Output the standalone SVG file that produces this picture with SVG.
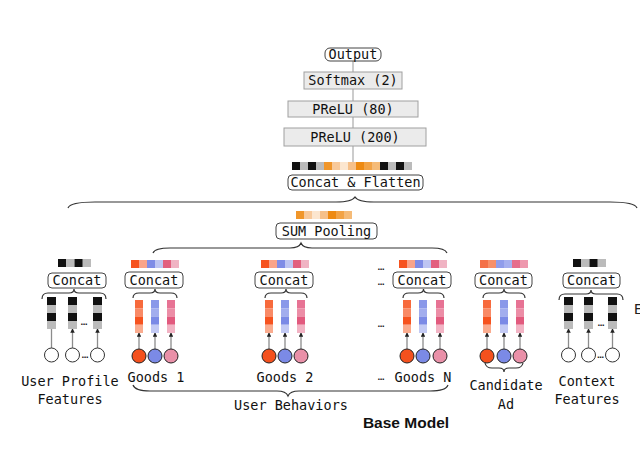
<svg xmlns="http://www.w3.org/2000/svg" width="640" height="468" viewBox="0 0 640 468">
<defs>
<style>
.mono{font-family:"DejaVu Sans Mono","Liberation Mono",monospace;font-size:13.5px;fill:#111;text-anchor:middle}
.box{fill:#fff;stroke:#444;stroke-width:1}
.gbox{fill:#ebebeb;stroke:#a0a0a0;stroke-width:1}
.brace{fill:none;stroke:#333;stroke-width:1.2}
.arr{stroke:#8c8c8c;stroke-width:1.3;marker-end:url(#ah)}
.k{fill:#111}.g{fill:#bbb}
.c1{fill:#F6531F}.c2{fill:#F9A48A}.c3{fill:#7F8CE6}.c4{fill:#BEC5F2}.c5{fill:#E2607F}.c6{fill:#F0B3C3}
.r1{fill:#F76A3C}.r2{fill:#F98A66}.r3{fill:#F6531F}.r4{fill:#FAAB8E}
.b1{fill:#8A98E9}.b2{fill:#A2ADEE}.b3{fill:#7B8AE6}.b4{fill:#C3CAF4}
.p1{fill:#E77394}.p2{fill:#EC8DA6}.p3{fill:#E25A7E}.p4{fill:#F2B3C4}
.cr{fill:#F4511E;stroke:#222;stroke-width:1}
.cb{fill:#7B8AE6;stroke:#222;stroke-width:1}
.cp{fill:#E990A8;stroke:#222;stroke-width:1}
.cw{fill:#fff;stroke:#333;stroke-width:1}
.dots{font-family:"DejaVu Sans Mono",monospace;font-size:11px;fill:#222;text-anchor:middle}
</style>
<marker id="ah" viewBox="0 0 6 6" refX="5" refY="3" markerWidth="3.5" markerHeight="3.5" orient="auto"><path d="M0,0 L6,3 L0,6 z" fill="#222"/></marker>
<g id="gcol">
<rect x="0" y="0" width="9" height="8" class="k"/><rect x="0" y="8" width="9" height="8" class="g"/><rect x="0" y="16" width="9" height="8" class="k"/><rect x="0" y="24" width="9" height="8" class="g"/>
</g>
<g id="rcol"><rect x="0" y="0" width="8" height="8.25" class="r1"/><rect x="0" y="8.25" width="8" height="8.25" class="r2"/><rect x="0" y="16.5" width="8" height="8.25" class="r3"/><rect x="0" y="24.75" width="8" height="8.25" class="r4"/></g>
<g id="bcol"><rect x="0" y="0" width="8" height="8.25" class="b1"/><rect x="0" y="8.25" width="8" height="8.25" class="b2"/><rect x="0" y="16.5" width="8" height="8.25" class="b3"/><rect x="0" y="24.75" width="8" height="8.25" class="b4"/></g>
<g id="pcol"><rect x="0" y="0" width="8" height="8.25" class="p1"/><rect x="0" y="8.25" width="8" height="8.25" class="p2"/><rect x="0" y="16.5" width="8" height="8.25" class="p3"/><rect x="0" y="24.75" width="8" height="8.25" class="p4"/></g>
<g id="gbar"><rect x="0" y="0" width="8.25" height="8" class="k"/><rect x="8.25" y="0" width="8.25" height="8" class="g"/><rect x="16.5" y="0" width="8.25" height="8" class="k"/><rect x="24.75" y="0" width="8.25" height="8" class="g"/></g>
<g id="cbar"><rect x="0" y="0" width="8" height="8" class="c1"/><rect x="8" y="0" width="8" height="8" class="c2"/><rect x="16" y="0" width="8" height="8" class="c3"/><rect x="24" y="0" width="8" height="8" class="c4"/><rect x="32" y="0" width="8" height="8" class="c5"/><rect x="40" y="0" width="8" height="8" class="c6"/></g>
</defs>
<rect width="640" height="468" fill="#fff"/>

<g id="connectors">
<line x1="353" y1="60" x2="353" y2="162" stroke="#999" stroke-width="1"/>
<path class="brace" d="M68,208 Q70,202 95,202 L336,202 Q352,202 355,197 Q358,202 374,202 L610,202 Q635,202 637,208"/>
<path class="brace" d="M153,253 Q155,248 170,248 L290,248 Q299,248 301,243 Q303,248 312,248 L432,248 Q445,248 447,253"/>
<path class="brace" d="M133,385 Q135,391 150,391 L277,391 Q286,391 288,396 Q290,391 299,391 L430,391 Q446,391 448,385"/>
<path class="brace" d="M485,363 Q486,368 492,368 L499,368 Q504,368 504,372 Q504,368 509,368 L516,368 Q522,368 523,363"/>
<!-- small braces under concat boxes -->
<path class="brace" d="M42,299 Q42,293 48,293 L69,293 Q74,293 74,289 Q74,293 79,293 L100,293 Q106,293 106,299"/>
<path class="brace" d="M133,298 Q133,293 139,293 L150,293 Q155,293 155,289 Q155,293 160,293 L171,293 Q177,293 177,298"/>
<path class="brace" d="M265,298 Q265,293 271,293 L281,293 Q286,293 286,289 Q286,293 291,293 L301,293 Q307,293 307,298"/>
<path class="brace" d="M403,298 Q403,293 409,293 L418,293 Q423.5,293 423.5,289 Q423.5,293 429,293 L438,293 Q444,293 444,298"/>
<path class="brace" d="M483,298 Q483,293 489,293 L499,293 Q504,293 504,289 Q504,293 509,293 L519,293 Q525,293 525,298"/>
<path class="brace" d="M559,300 Q559,294 565,294 L586,294 Q591,294 591,290 Q591,294 596,294 L617,294 Q623,294 623,300"/>
<!-- arrows -->
<line class="arr" x1="51.5" y1="348" x2="51.5" y2="320"/>
<line class="arr" x1="72.5" y1="348" x2="72.5" y2="329"/>
<line class="arr" x1="97.5" y1="348" x2="97.5" y2="329"/>
<line class="arr" x1="139" y1="349" x2="139" y2="333"/>
<line class="arr" x1="155" y1="349" x2="155" y2="333"/>
<line class="arr" x1="171" y1="349" x2="171" y2="333"/>
<line class="arr" x1="269" y1="349" x2="269" y2="333"/>
<line class="arr" x1="285" y1="349" x2="285" y2="333"/>
<line class="arr" x1="301" y1="349" x2="301" y2="333"/>
<line class="arr" x1="407" y1="349" x2="407" y2="333"/>
<line class="arr" x1="423" y1="349" x2="423" y2="333"/>
<line class="arr" x1="440" y1="349" x2="440" y2="333"/>
<line class="arr" x1="487" y1="349" x2="487" y2="333"/>
<line class="arr" x1="504" y1="349" x2="504" y2="333"/>
<line class="arr" x1="520" y1="349" x2="520" y2="333"/>
<line class="arr" x1="568.5" y1="348" x2="568.5" y2="329"/>
<line class="arr" x1="588.5" y1="348" x2="588.5" y2="329"/>
<line class="arr" x1="612.5" y1="348" x2="612.5" y2="329"/>
</g>

<g id="output"><rect class="box" x="325" y="48" width="56" height="13" rx="5"/><text class="mono" x="353" y="58.5">Output</text></g>
<g id="softmax"><rect class="gbox" x="304" y="72" width="98" height="17"/><text class="mono" x="353" y="85">Softmax (2)</text></g>
<g id="prelu80"><rect class="gbox" x="288" y="101" width="130" height="16"/><text class="mono" x="353" y="113.5">PReLU (80)</text></g>
<g id="prelu200"><rect class="gbox" x="284" y="128" width="142" height="18"/><text class="mono" x="355" y="141.5">PReLU (200)</text></g>

<g id="concat-flatten">
<rect class="k" x="292" y="162" width="8" height="8"/><rect class="g" x="300" y="162" width="8" height="8"/><rect class="k" x="308" y="162" width="8" height="8"/><rect class="g" x="316" y="162" width="8" height="8"/>
<rect fill="#F0962A" x="324" y="162" width="8" height="8"/><rect fill="#F8C99A" x="332" y="162" width="8" height="8"/><rect fill="#FCE6CF" x="340" y="162" width="8" height="8"/><rect fill="#F6C089" x="348" y="162" width="8" height="8"/><rect fill="#EE8A12" x="356" y="162" width="8" height="8"/><rect fill="#F2A346" x="364" y="162" width="8" height="8"/><rect fill="#F5BB78" x="372" y="162" width="8" height="8"/>
<rect class="k" x="380" y="162" width="8" height="8"/><rect class="g" x="388" y="162" width="8" height="8"/><rect class="k" x="396" y="162" width="8" height="8"/><rect class="g" x="404" y="162" width="8" height="8"/>
<rect class="box" x="288" y="175" width="135" height="15" rx="4"/><text class="mono" x="355.5" y="187">Concat &amp; Flatten</text>
</g>

<g id="sum-pooling">
<rect fill="#F0962A" x="296" y="211" width="8" height="8"/><rect fill="#F8C99A" x="304" y="211" width="8" height="8"/><rect fill="#FCE6CF" x="312" y="211" width="8" height="8"/><rect fill="#F6C089" x="320" y="211" width="8" height="8"/><rect fill="#EE8A12" x="328" y="211" width="8" height="8"/><rect fill="#F2A346" x="336" y="211" width="8" height="8"/><rect fill="#F5BB78" x="344" y="211" width="8" height="8"/>
<rect class="box" x="276" y="223" width="101" height="16" rx="4"/><text class="mono" x="326.5" y="235.5">SUM Pooling</text>
</g>

<g id="user-profile">
<use href="#gbar" x="58" y="259"/>
<rect class="box" x="48" y="273" width="58" height="15" rx="4"/><text class="mono" x="77" y="285">Concat</text>
<use href="#gcol" x="47" y="297"/><use href="#gcol" x="68" y="297"/><use href="#gcol" x="93" y="297"/>
<text class="dots" x="84" y="325">…</text>
<circle class="cw" cx="51.5" cy="355" r="7"/><circle class="cw" cx="72.5" cy="355" r="7"/><circle class="cw" cx="97.5" cy="355" r="7"/>
<text class="dots" x="85" y="358">…</text>
<text class="mono" x="70" y="386">User Profile</text><text class="mono" x="70" y="404">Features</text>
</g>

<g id="goods1">
<use href="#cbar" x="131" y="260"/>
<rect class="box" x="125" y="272" width="58" height="16" rx="4"/><text class="mono" x="154" y="284.5">Concat</text>
<use href="#rcol" x="135" y="300"/><use href="#bcol" x="151" y="300"/><use href="#pcol" x="167" y="300"/>
<circle class="cr" cx="139" cy="356" r="7"/><circle class="cb" cx="155" cy="356" r="7"/><circle class="cp" cx="171" cy="356" r="7"/>
<text class="mono" x="156" y="382">Goods 1</text>
</g>

<g id="goods2">
<use href="#cbar" x="261" y="260"/>
<rect class="box" x="255" y="272" width="58" height="16" rx="4"/><text class="mono" x="284" y="284.5">Concat</text>
<use href="#rcol" x="265" y="300"/><use href="#bcol" x="281" y="300"/><use href="#pcol" x="297" y="300"/>
<circle class="cr" cx="269" cy="356" r="7"/><circle class="cb" cx="285" cy="356" r="7"/><circle class="cp" cx="301" cy="356" r="7"/>
<text class="mono" x="285" y="382">Goods 2</text>
</g>

<g id="ellipsis">
<text class="dots" x="381" y="270">…</text>
<text class="dots" x="381" y="285">…</text>
<text class="dots" x="381" y="327">…</text>
<text class="dots" x="381" y="380">…</text>
</g>

<g id="goodsN">
<use href="#cbar" x="399" y="260"/>
<rect class="box" x="393" y="272" width="58" height="16" rx="4"/><text class="mono" x="422" y="284.5">Concat</text>
<use href="#rcol" x="403" y="300"/><use href="#bcol" x="419" y="300"/><use href="#pcol" x="436" y="300"/>
<circle class="cr" cx="407" cy="356" r="7"/><circle class="cb" cx="423" cy="356" r="7"/><circle class="cp" cx="440" cy="356" r="7"/>
<text class="mono" x="423" y="382">Goods N</text>
</g>

<g id="candidate-ad">
<rect fill="#F47048" x="480" y="260" width="8" height="8"/><rect fill="#F7906A" x="488" y="260" width="8" height="8"/><rect fill="#909DEB" x="496" y="260" width="8" height="8"/><rect fill="#A6B0EF" x="504" y="260" width="8" height="8"/><rect fill="#E66D8C" x="512" y="260" width="8" height="8"/><rect fill="#EE98AE" x="520" y="260" width="8" height="8"/>
<rect class="box" x="475" y="273" width="57" height="15" rx="4"/><text class="mono" x="503.5" y="285">Concat</text>
<use href="#rcol" x="483" y="300"/><use href="#bcol" x="500" y="300"/><use href="#pcol" x="516" y="300"/>
<circle class="cr" cx="487" cy="356" r="7"/><circle class="cb" cx="504" cy="356" r="7"/><circle class="cp" cx="520" cy="356" r="7"/>
<text class="mono" x="506" y="390">Candidate</text><text class="mono" x="506" y="408.5">Ad</text>
</g>

<g id="context">
<use href="#gbar" x="573" y="259"/>
<rect class="box" x="563" y="273" width="57" height="15" rx="4"/><text class="mono" x="591.5" y="285">Concat</text>
<use href="#gcol" x="564" y="297"/><use href="#gcol" x="584" y="297"/><use href="#gcol" x="608" y="297"/>
<text class="dots" x="601" y="326">…</text>
<circle class="cw" cx="568.5" cy="355" r="7"/><circle class="cw" cx="588.5" cy="355" r="7"/><circle class="cw" cx="612.5" cy="355" r="7"/>
<text class="dots" x="600.5" y="358">…</text>
<text class="mono" x="587" y="386">Context</text><text class="mono" x="587" y="404">Features</text>
</g>

<g id="labels">
<text class="mono" x="291" y="410">User Behaviors</text>
<text x="406" y="428" font-family="Liberation Sans,Arial,sans-serif" font-weight="bold" font-size="15.5" text-anchor="middle" fill="#111">Base Model</text>
<text x="634" y="314" font-family="Liberation Sans,Arial,sans-serif" font-size="15" fill="#222">E</text>
</g>
</svg>
